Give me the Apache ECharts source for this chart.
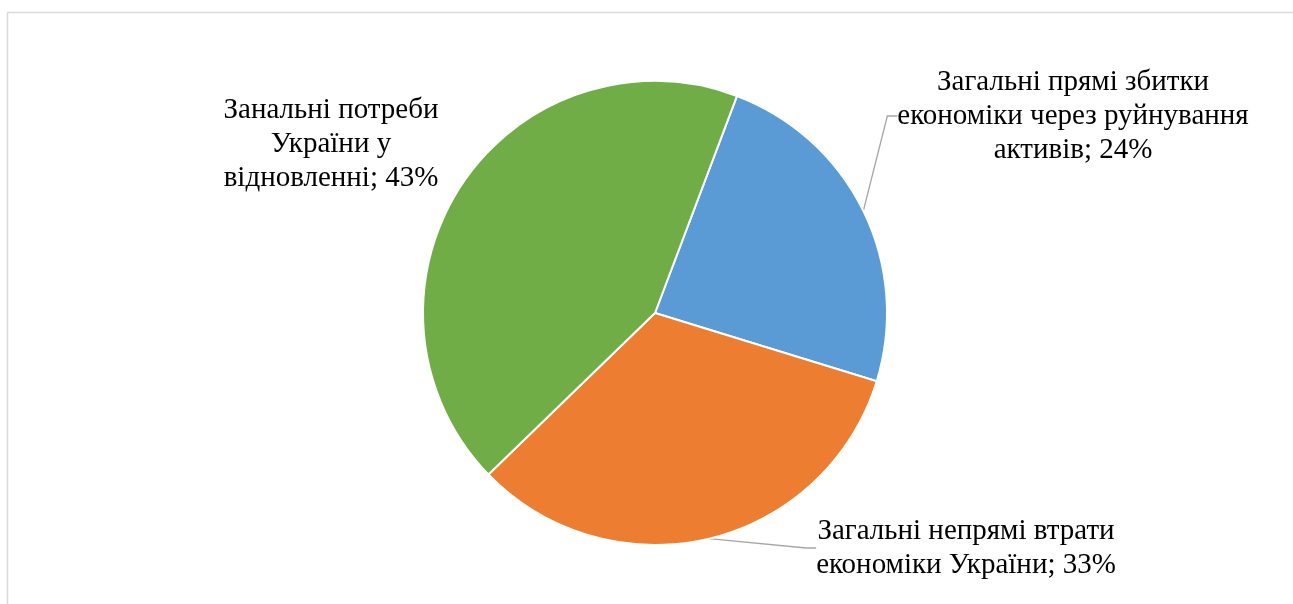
<!DOCTYPE html>
<html>
<head>
<meta charset="utf-8">
<script src="https://cdn.jsdelivr.net/npm/echarts@6/dist/echarts.min.js"></script>
<style>
html,body{margin:0;padding:0;background:#fff;}
#chart{width:1293px;height:604px;}
</style>
</head>
<body>
<div id="chart"></div>
<script>
const categories = [
  'Загальні прямі збитки\nекономіки через руйнування\nактивів',
  'Загальні непрямі втрати\nекономіки України',
  'Занальні потреби\nУкраїни у\nвідновленні'
];
const values = [24, 33, 43];
const colors = ['#5B9BD5', '#ED7D31', '#70AD47'];
const labelCenters = [[1073, 116], [966, 548], [331, 144]];
const showLeader = [true, true, false];

const chart = echarts.init(document.getElementById('chart'), null, {renderer: 'canvas'});
chart.setOption({
  backgroundColor: '#ffffff',
  animation: false,
  graphic: [{
    type: 'rect',
    shape: {x: 7.5, y: 12.5, width: 1400, height: 700},
    style: {fill: 'none', stroke: '#d9d9d9', lineWidth: 1.5},
    silent: true
  }],
  series: [{
    type: 'pie',
    center: [655, 313],
    radius: 232,
    startAngle: 69.3,
    clockwise: true,
    itemStyle: {borderColor: '#ffffff', borderWidth: 2},
    label: {
      show: true,
      position: 'outside',
      formatter: '{b}; {d}%',
      fontFamily: 'Liberation Serif',
      fontSize: 29,
      lineHeight: 34,
      color: '#000000',
      align: 'center'
    },
    labelLine: {
      show: true,
      lineStyle: {color: '#a6a6a6', width: 1.3},
      length: 10,
      length2: 10
    },
    labelLayout: function (p) {
      const c = labelCenters[p.dataIndex];
      return {x: c[0], y: c[1], align: 'center', verticalAlign: 'middle'};
    },
    data: categories.map((n, i) => ({
      name: n,
      value: values[i],
      itemStyle: {color: colors[i]},
      labelLine: {show: showLeader[i]}
    }))
  }]
});
</script>
</body>
</html>
